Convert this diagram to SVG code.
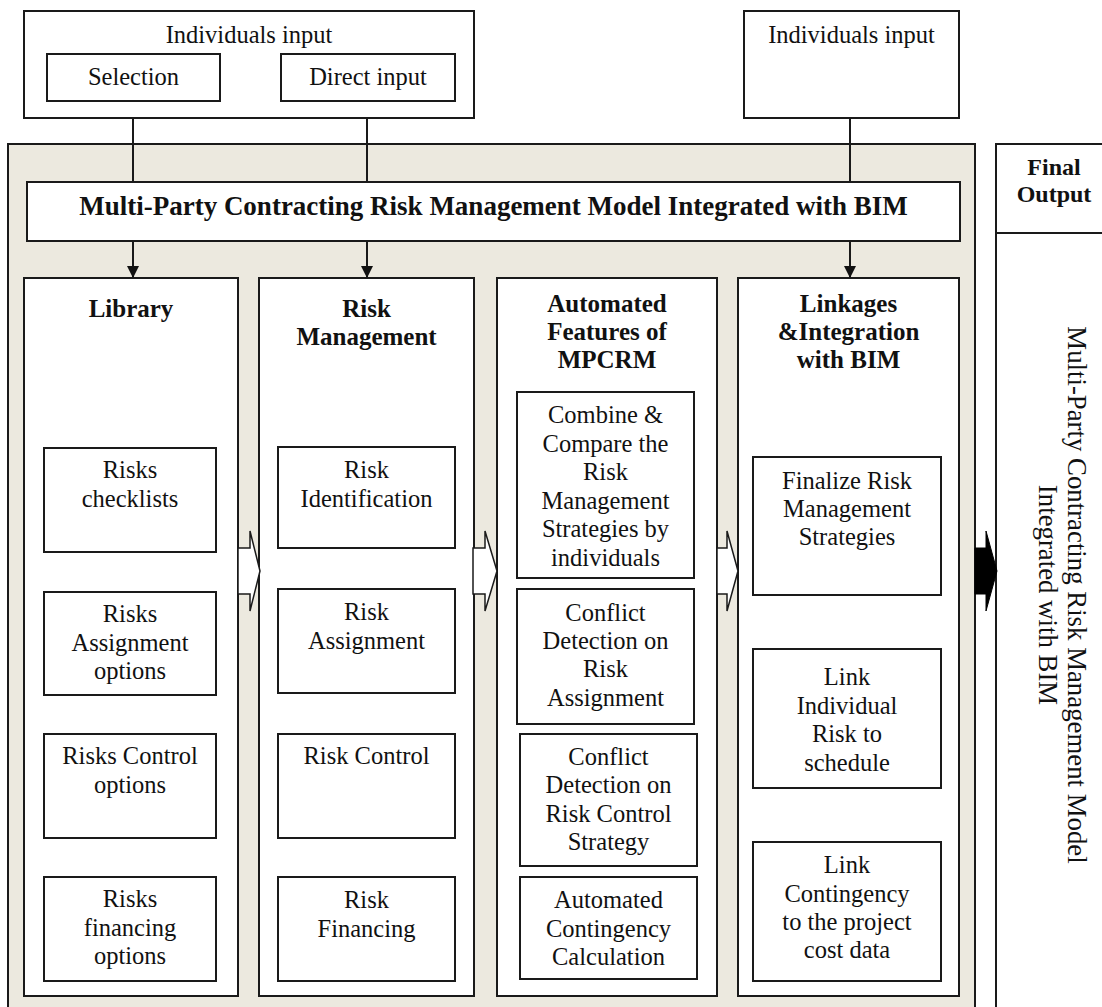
<svg xmlns="http://www.w3.org/2000/svg" width="1102" height="1007" viewBox="0 0 1102 1007">
<style>
.box{fill:#fff;stroke:#1a1a1a;stroke-width:2}
.t{font-family:'Liberation Serif',Tinos,'Times New Roman',serif;font-size:24.5px;fill:#111;text-anchor:middle}
.b{font-weight:bold;font-size:25px}
.ln{stroke:#1a1a1a;stroke-width:2;fill:none}
.ha{fill:#fff;stroke:#1a1a1a;stroke-width:1.5;stroke-linejoin:miter}
.fa{fill:#000;stroke:#000;stroke-width:1}
</style>
<defs>
<marker id="ah" markerWidth="12" markerHeight="12" refX="12" refY="6" orient="auto" markerUnits="userSpaceOnUse"><path d="M0,0 L12,6 L0,12 z" fill="#111"/></marker>
</defs>
<rect width="1102" height="1007" fill="#fff"/>
<g id="panel"><rect x="8" y="144" width="967" height="880" fill="#ECE9DF" stroke="#1a1a1a" stroke-width="2"/></g>

<g id="input-left">
<rect class="box" x="24" y="11" width="450" height="107"/>
<text class="t" x="249" y="43">Individuals input</text>
</g>
<g id="selection"><rect class="box" x="47" y="54" width="173" height="47"/><text class="t" x="133.5" y="85">Selection</text></g>
<g id="direct-input"><rect class="box" x="281" y="54" width="174" height="47"/><text class="t" x="368" y="85">Direct input</text></g>
<g id="input-right"><rect class="box" x="744" y="11" width="215" height="107"/><text class="t" x="851.5" y="43">Individuals input</text></g>

<g id="model"><rect class="box" x="27" y="182" width="933" height="59"/><text class="t b" style="font-size:27px" x="493.5" y="215">Multi-Party Contracting Risk Management Model Integrated with BIM</text></g>

<g id="final-output">
<rect class="box" x="996" y="144" width="130" height="900"/>
<line class="ln" x1="996" y1="233" x2="1102" y2="233"/>
<text class="t b" style="font-size:24px" x="1054" y="175">Final</text>
<text class="t b" style="font-size:24px" x="1054" y="202">Output</text>
<g transform="translate(1054,595) rotate(90)">
<text class="t" style="font-size:26.8px" x="0" y="-14">Multi-Party Contracting Risk Management Model</text>
<text class="t" style="font-size:26.8px" x="0" y="15">Integrated with BIM</text>
</g>
</g>

<g id="col-library">
<rect class="box" x="24" y="278" width="214" height="718"/>
<text class="t b" x="131" y="317">Library</text>
</g>
<g id="risks-checklists"><rect class="box" x="44" y="448" width="172" height="104"/><text class="t" x="130" y="478">Risks</text><text class="t" x="130" y="507">checklists</text></g>
<g id="risks-assignment-options"><rect class="box" x="44" y="592" width="172" height="103"/><text class="t" x="130" y="622">Risks</text><text class="t" x="130" y="651">Assignment</text><text class="t" x="130" y="679">options</text></g>
<g id="risks-control-options"><rect class="box" x="44" y="734" width="172" height="104"/><text class="t" x="130" y="764">Risks Control</text><text class="t" x="130" y="793">options</text></g>
<g id="risks-financing-options"><rect class="box" x="44" y="877" width="172" height="104"/><text class="t" x="130" y="907">Risks</text><text class="t" x="130" y="936">financing</text><text class="t" x="130" y="964">options</text></g>

<g id="col-risk-management">
<rect class="box" x="259" y="278" width="215" height="718"/>
<text class="t b" x="366.5" y="317">Risk</text>
<text class="t b" x="366.5" y="345">Management</text>
</g>
<g id="risk-identification"><rect class="box" x="278" y="447" width="177" height="101"/><text class="t" x="366.5" y="478">Risk</text><text class="t" x="366.5" y="507">Identification</text></g>
<g id="risk-assignment"><rect class="box" x="278" y="589" width="177" height="104"/><text class="t" x="366.5" y="620">Risk</text><text class="t" x="366.5" y="649">Assignment</text></g>
<g id="risk-control"><rect class="box" x="278" y="734" width="177" height="104"/><text class="t" x="366.5" y="764">Risk Control</text></g>
<g id="risk-financing"><rect class="box" x="278" y="877" width="177" height="104"/><text class="t" x="366.5" y="908">Risk</text><text class="t" x="366.5" y="937">Financing</text></g>

<g id="col-automated">
<rect class="box" x="497" y="278" width="220" height="718"/>
<text class="t b" x="607" y="312">Automated</text>
<text class="t b" x="607" y="340">Features of</text>
<text class="t b" x="607" y="368">MPCRM</text>
</g>
<g id="combine-compare"><rect class="box" x="517" y="392" width="177" height="186"/>
<text class="t" x="605.5" y="423">Combine &amp;</text><text class="t" x="605.5" y="451.5">Compare the</text><text class="t" x="605.5" y="480">Risk</text><text class="t" x="605.5" y="508.5">Management</text><text class="t" x="605.5" y="537">Strategies by</text><text class="t" x="605.5" y="565.5">individuals</text></g>
<g id="conflict-assignment"><rect class="box" x="517" y="589" width="177" height="135"/>
<text class="t" x="605.5" y="621">Conflict</text><text class="t" x="605.5" y="649">Detection on</text><text class="t" x="605.5" y="677">Risk</text><text class="t" x="605.5" y="706">Assignment</text></g>
<g id="conflict-control"><rect class="box" x="520" y="734" width="177" height="132"/>
<text class="t" x="608.5" y="765">Conflict</text><text class="t" x="608.5" y="793">Detection on</text><text class="t" x="608.5" y="822">Risk Control</text><text class="t" x="608.5" y="850">Strategy</text></g>
<g id="contingency-calc"><rect class="box" x="520" y="877" width="177" height="102"/>
<text class="t" x="608.5" y="908">Automated</text><text class="t" x="608.5" y="937">Contingency</text><text class="t" x="608.5" y="965">Calculation</text></g>

<g id="col-linkages">
<rect class="box" x="738" y="278" width="221" height="718"/>
<text class="t b" x="848.5" y="312">Linkages</text>
<text class="t b" x="848.5" y="340">&amp;Integration</text>
<text class="t b" x="848.5" y="368">with BIM</text>
</g>
<g id="finalize"><rect class="box" x="753" y="457" width="188" height="138"/>
<text class="t" x="847" y="489">Finalize Risk</text><text class="t" x="847" y="517">Management</text><text class="t" x="847" y="545">Strategies</text></g>
<g id="link-schedule"><rect class="box" x="753" y="649" width="188" height="139"/>
<text class="t" x="847" y="685">Link</text><text class="t" x="847" y="713.5">Individual</text><text class="t" x="847" y="742">Risk to</text><text class="t" x="847" y="770.5">schedule</text></g>
<g id="link-cost"><rect class="box" x="753" y="842" width="188" height="139"/>
<text class="t" x="847" y="873">Link</text><text class="t" x="847" y="902">Contingency</text><text class="t" x="847" y="930">to the project</text><text class="t" x="847" y="958">cost data</text></g>

<g id="connectors">
<line class="ln" x1="133" y1="118" x2="133" y2="182"/>
<line class="ln" x1="367" y1="118" x2="367" y2="182"/>
<line class="ln" x1="850" y1="118" x2="850" y2="182"/>
<line class="ln" x1="133" y1="241" x2="133" y2="278" marker-end="url(#ah)"/>
<line class="ln" x1="367" y1="241" x2="367" y2="278" marker-end="url(#ah)"/>
<line class="ln" x1="850" y1="241" x2="850" y2="278" marker-end="url(#ah)"/>
<polygon class="ha" points="238,548 250,548 250,531 260,571 250,611 250,594 238,594"/>
<polygon class="ha" points="473,548 485,548 485,531 497,571 485,611 485,594 473,594"/>
<polygon class="ha" points="717,548 727,548 727,531 738,571 727,611 727,594 717,594"/>
<polygon class="fa" points="975,548 986,548 986,531 997,571 986,611 986,594 975,594"/>
</g>
</svg>
